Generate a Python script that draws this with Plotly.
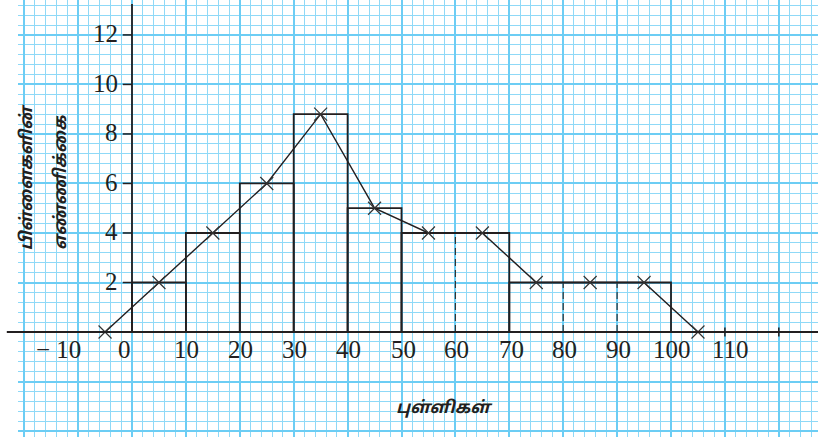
import plotly.graph_objects as go

# histogram classes (marks) and number of children
class_lo = [0, 10, 20, 30, 40, 50, 70]
class_hi = [10, 20, 30, 40, 50, 70, 100]
heights = [2, 4, 6, 8.8, 5, 4, 2]

# dashed dividers inside the wide classes
divider_x = [60, 80, 90]
divider_h = [4, 2, 2]

# frequency polygon
poly_x = [-5, 5, 15, 25, 35, 45, 55, 65, 75, 85, 95, 105]
poly_y = [0, 2, 4, 6, 8.8, 5, 4, 4, 2, 2, 2, 0]

y_ticks = [2, 4, 6, 8, 10, 12]
x_ticks = [-10, 0, 10, 20, 30, 40, 50, 60, 70, 80, 90, 100, 110]
x_tick_text = ["\u2212 10", "0", "10", "20", "30", "40", "50", "60", "70", "80", "90", "100", "110"]
x_minor_ticks = [110, 120]

x_title = "புள்ளிகள்"
y_title = ["பிள்ளைகளின்", "எண்ணிக்கை"]

serif = "Liberation Serif, Times New Roman, serif"
tamil = "Noto Sans Tamil, Noto Sans, sans-serif"
ink = "#231f20"

fig = go.Figure()

fig.add_trace(go.Bar(
    x=[(a + b) / 2 for a, b in zip(class_lo, class_hi)],
    y=heights,
    width=[b - a for a, b in zip(class_lo, class_hi)],
    marker=dict(color="rgba(0,0,0,0)", line=dict(color=ink, width=1.8)),
    hoverinfo="skip",
))

for dx, dh in zip(divider_x, divider_h):
    fig.add_trace(go.Scatter(
        x=[dx, dx], y=[0, dh], mode="lines",
        line=dict(color="#333", width=1.2, dash="7px,4px"),
        hoverinfo="skip",
    ))

fig.add_trace(go.Scatter(
    x=poly_x, y=poly_y, mode="lines+markers",
    line=dict(color=ink, width=1.4),
    marker=dict(symbol="x-thin", size=13, line=dict(color="#333", width=1.2)),
))

# axes drawn as lines through the origin
fig.add_shape(type="line", xref="paper", yref="y", x0=-0.014, x1=1, y0=0, y1=0,
              line=dict(color=ink, width=1.8))
fig.add_shape(type="line", xref="x", yref="y", x0=0, x1=0, y0=0, y1=13.25,
              line=dict(color=ink, width=1.8))
for t in y_ticks:
    fig.add_shape(type="line", x0=-1.7, x1=0, y0=t, y1=t, line=dict(color=ink, width=1.5))
for t in x_minor_ticks:
    fig.add_shape(type="line", x0=t, x1=t, y0=-0.18, y1=0.18, line=dict(color=ink, width=1.5))

for t in y_ticks:
    fig.add_annotation(x=0, y=t, text=str(t), showarrow=False, xanchor="right",
                       xshift=-12, yshift=1, font=dict(family=serif, size=25, color=ink))

x_shift = {-10: -20, 0: -8, 110: 6, 100: 1, 70: 2, 50: 2}
for t, s in zip(x_ticks, x_tick_text):
    fig.add_annotation(x=t, y=-0.7, text=s, showarrow=False, xshift=x_shift.get(t, 1),
                       font=dict(family=serif, size=25, color=ink))

fig.add_annotation(x=58, y=-3.07, text="<b><i>" + x_title + "</i></b>", showarrow=False,
                   font=dict(family=tamil, size=17, color=ink))
for xs, line in zip([-19.3, -13.1], y_title):
    fig.add_annotation(x=xs, y=3.23, text="<b><i>" + line + "</i></b>", showarrow=False,
                       textangle=-90, yanchor="bottom",
                       font=dict(family=tamil, size=17, color=ink))

grid_major = "#6ccdf4"
grid_minor = "#8fd9f7"
fig.update_xaxes(range=[-21.15, 127.27], dtick=10, tick0=0, showgrid=True,
                 gridcolor=grid_major, gridwidth=1.8, zeroline=False, showticklabels=False,
                 minor=dict(dtick=2, showgrid=True, gridcolor=grid_minor, gridwidth=1.3))
fig.update_yaxes(range=[-4.24, 13.41], dtick=2, tick0=0, showgrid=True,
                 gridcolor=grid_major, gridwidth=1.8, zeroline=False, showticklabels=False,
                 minor=dict(dtick=0.4, showgrid=True, gridcolor=grid_minor, gridwidth=1.3))

fig.update_layout(
    width=818, height=437,
    margin=dict(l=18, r=0, t=0, b=0),
    plot_bgcolor="white", paper_bgcolor="white",
    showlegend=False,
)

# drop the browser's default page margin so the figure sits at the window corner
fig.write_html("out.html", config={"displayModeBar": False},
               post_script="document.body.style.margin='0';")
